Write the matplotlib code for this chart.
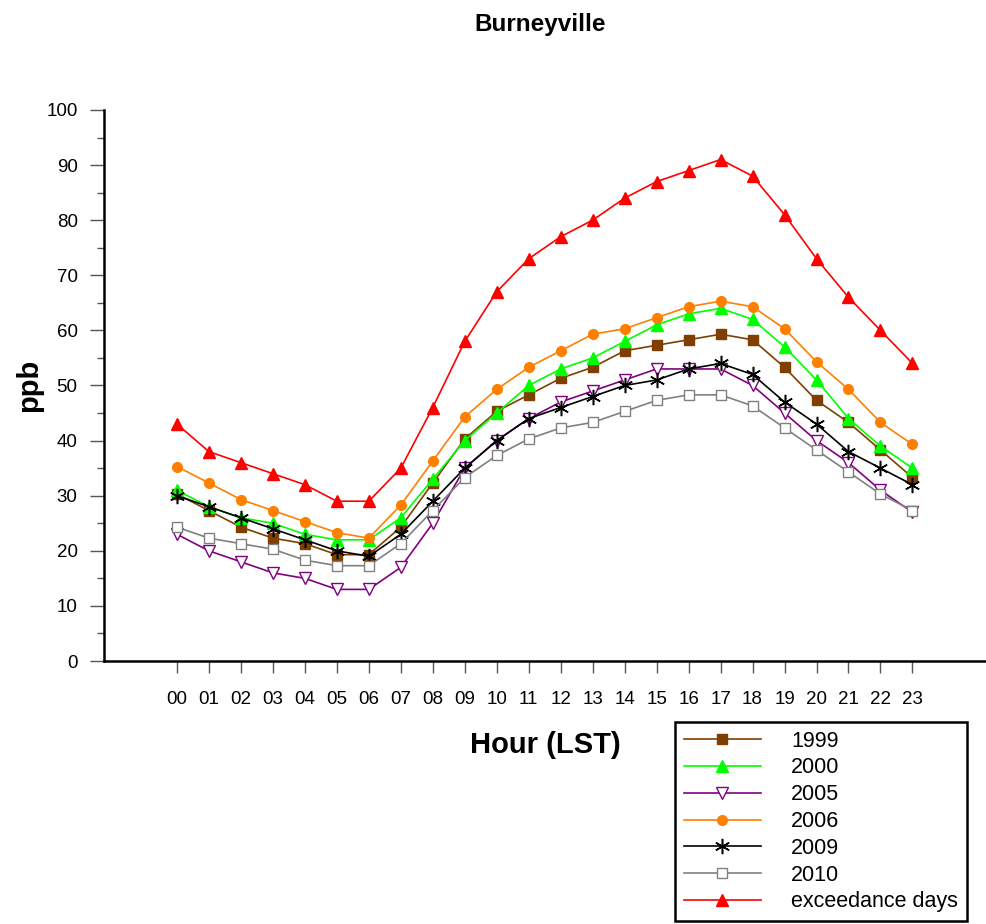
import numpy as np
import matplotlib
matplotlib.use("Agg")
import matplotlib.pyplot as plt
from matplotlib.ticker import MultipleLocator

plt.rcParams['font.family'] = ['Liberation Sans', 'DejaVu Sans']

# hourly averages (ppb)
hours = list(range(24))
hour_labels = ["%02d" % h for h in hours]

y1999 = [30.3, 27.3, 24.3, 22.3, 21.3, 19.3, 19.3, 24.3, 32.3, 40.3, 45.3, 48.3,
         51.3, 53.3, 56.3, 57.3, 58.3, 59.3, 58.3, 53.3, 47.3, 43.3, 38.3, 33.3]
y2000 = [31, 28, 26, 25, 23, 22, 22, 26, 33, 40, 45, 50,
         53, 55, 58, 61, 63, 64, 62, 57, 51, 44, 39, 35]
y2005 = [23, 20, 18, 16, 15, 13, 13, 17, 25, 35, 40, 44,
         47, 49, 51, 53, 53, 53, 50, 45, 40, 36, 31, 27]
y2006 = [35.3, 32.3, 29.3, 27.3, 25.3, 23.3, 22.3, 28.3, 36.3, 44.3, 49.3, 53.3,
         56.3, 59.3, 60.3, 62.3, 64.3, 65.3, 64.3, 60.3, 54.3, 49.3, 43.3, 39.3]
y2009 = [30, 28, 26, 24, 22, 20, 19, 23, 29, 35, 40, 44,
         46, 48, 50, 51, 53, 54, 52, 47, 43, 38, 35, 32]
y2010 = [24.3, 22.3, 21.3, 20.3, 18.3, 17.3, 17.3, 21.3, 27.3, 33.3, 37.3, 40.3,
         42.3, 43.3, 45.3, 47.3, 48.3, 48.3, 46.3, 42.3, 38.3, 34.3, 30.3, 27.3]
exceed = [43, 38, 36, 34, 32, 29, 29, 35, 46, 58, 67, 73,
          77, 80, 84, 87, 89, 91, 88, 81, 73, 66, 60, 54]

fig = plt.figure(figsize=(9.86, 9.24), dpi=100)
ax = fig.add_axes([0.1055, 0.2846, 0.8945, 0.5964])

lw = 1.2
ax.plot(hours, y1999, color='#7f3f00', marker='s', ms=7.5, lw=lw, label='1999')
ax.plot(hours, y2000, color='#00ff00', marker='^', ms=8.5, lw=lw, label='2000')
ax.plot(hours, y2005, color='#800080', marker='v', ms=8.5, lw=lw,
        mfc='white', mec='#800080', label='2005')
ax.plot(hours, y2006, color='#ff8000', marker='o', ms=7, lw=lw, label='2006')
ax.plot(hours, y2009, color='black', marker=(6, 2, 0), ms=11, mew=1.1, lw=lw, label='2009')
ax.plot(hours, y2010, color='#808080', marker='s', ms=7.5, lw=lw,
        mfc='white', mec='#808080', label='2010')
ax.plot(hours, exceed, color='red', marker='^', ms=8.5, lw=lw, label='exceedance days')

ax.set_xlim(-2.28, 25.3)
ax.set_ylim(0, 100)
ax.set_xticks(hours)
ax.set_xticklabels(hour_labels)
ax.yaxis.set_major_locator(MultipleLocator(10))
ax.yaxis.set_minor_locator(MultipleLocator(5))

for s in ['top', 'right']:
    ax.spines[s].set_visible(False)
for s in ['left', 'bottom']:
    ax.spines[s].set_linewidth(1.8)

ax.tick_params(axis='y', which='major', length=10, width=1, color='#555555', pad=9, labelsize=13.5)
ax.tick_params(axis='y', which='minor', length=5, width=1, color='#555555')
ax.tick_params(axis='x', which='major', length=8.5, width=1, color='#555555', pad=13, labelsize=13.5)

ax.set_ylabel('ppb', fontsize=21, fontweight='bold')
ax.yaxis.set_label_coords(-0.069, 0.5)
ax.set_xlabel('Hour (LST)', fontsize=21, fontweight='bold')
ax.xaxis.set_label_coords((545 - 104) / 882, -0.127)
fig.suptitle('Burneyville', fontsize=17.5, fontweight='bold', x=540 / 986, y=0.986)

leg = fig.legend(loc='upper left', bbox_to_anchor=(0.6846, 0.2186), fontsize=15.5,
                 handlelength=3.6, handletextpad=1.4, labelspacing=0.27,
                 fancybox=False, edgecolor='black', framealpha=1,
                 borderpad=0.4, borderaxespad=0)
leg.get_frame().set_linewidth(1.8)

fig.savefig('out.png', dpi=100)
